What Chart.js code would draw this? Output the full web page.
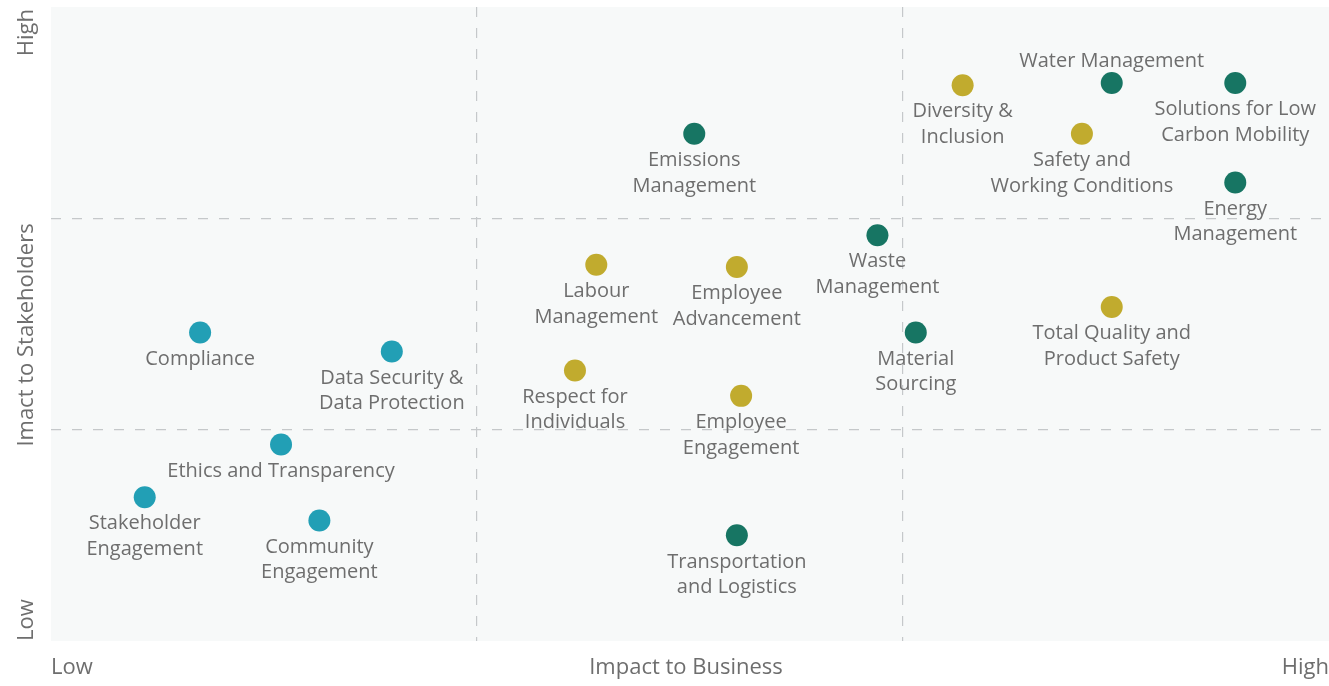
<!DOCTYPE html>
<html>
<head>
<meta charset="utf-8">
<script src="https://cdn.jsdelivr.net/npm/chart.js@4/dist/chart.umd.min.js"></script>
<style>
    html, body { margin: 0; padding: 0; background: #ffffff; }
    #wrap { width: 1329px; height: 686px; position: relative; }
</style>
</head>
<body>
<div id="wrap"><canvas id="matrixChart"></canvas></div>
<script>
// Material topics (label lines split with \n)
const topics = [
    'Compliance', 'Data Security &\nData Protection', 'Ethics and Transparency',
    'Stakeholder\nEngagement', 'Community\nEngagement',
    'Diversity &\nInclusion', 'Safety and\nWorking Conditions', 'Labour\nManagement',
    'Employee\nAdvancement', 'Respect for\nIndividuals', 'Employee\nEngagement',
    'Total Quality and\nProduct Safety',
    'Water Management', 'Solutions for Low\nCarbon Mobility', 'Energy\nManagement',
    'Emissions\nManagement', 'Waste\nManagement', 'Material\nSourcing',
    'Transportation\nand Logistics'
];
// Impact to Business (0 = low, 3 = high)
const impactBusiness = [
    0.35, 0.80, 0.54, 0.22, 0.63,
    2.14, 2.42, 1.28, 1.61, 1.23, 1.62, 2.49,
    2.49, 2.78, 2.78, 1.51, 1.94, 2.03, 1.61
];
// Impact to Stakeholders (0 = low, 3 = high)
const impactStakeholders = [
    1.46, 1.37, 0.93, 0.68, 0.57,
    2.63, 2.40, 1.78, 1.77, 1.28, 1.16, 1.58,
    2.64, 2.64, 2.17, 2.40, 1.92, 1.46, 0.50
];
// group of each topic
const topicGroup = [
    'governance', 'governance', 'governance', 'governance', 'governance',
    'social', 'social', 'social', 'social', 'social', 'social', 'social',
    'environment', 'environment', 'environment', 'environment', 'environment', 'environment', 'environment'
];
const groups = ['governance', 'social', 'environment'];
const xAxisLabels = ['Low', 'Impact to Business', 'High'];
const yAxisLabels = ['Low', 'Imact to Stakeholders', 'High'];

const groupColors = { governance: '#229fb5', social: '#c1ab2e', environment: '#177563' };
const labelsAbove = ['Water Management'];
const FONT = '20px "Open Sans", sans-serif';
const AXIS_FONT = '22px "Open Sans", sans-serif';
const TEXT_COLOR = '#6e6e6e';

const datasets = groups.map(g => {
    const idx = topics.map((t, i) => i).filter(i => topicGroup[i] === g);
    return {
        label: g,
        data: idx.map(i => ({ x: impactBusiness[i], y: impactStakeholders[i], name: topics[i] })),
        backgroundColor: groupColors[g],
        borderWidth: 0,
        pointRadius: 11,
        pointHoverRadius: 11
    };
});

// plot background
const backgroundPlugin = {
    id: 'plotBackground',
    beforeDraw(chart) {
        const { ctx, chartArea } = chart;
        ctx.save();
        ctx.fillStyle = '#f7f9f9';
        ctx.fillRect(chartArea.left, chartArea.top, chartArea.right - chartArea.left, chartArea.bottom - chartArea.top);
        ctx.restore();
    }
};

// point labels + axis text
const textPlugin = {
    id: 'matrixText',
    afterDatasetsDraw(chart) {
        const ctx = chart.ctx;
        ctx.save();
        ctx.font = FONT;
        ctx.fillStyle = TEXT_COLOR;
        ctx.textAlign = 'center';
        ctx.textBaseline = 'middle';
        chart.data.datasets.forEach((ds, di) => {
            const meta = chart.getDatasetMeta(di);
            meta.data.forEach((pt, i) => {
                const name = ds.data[i].name;
                const lines = name.split('\n');
                if (labelsAbove.includes(name)) {
                    lines.forEach((l, k) => ctx.fillText(l, pt.x, pt.y - 22 - (lines.length - 1 - k) * 25.5));
                } else {
                    lines.forEach((l, k) => ctx.fillText(l, pt.x, pt.y + 26.5 + k * 25.5));
                }
            });
        });

        const { chartArea } = chart;
        const xs = chart.scales.x;
        const ys = chart.scales.y;
        ctx.font = AXIS_FONT;
        // x axis text
        ctx.textAlign = 'left';
        ctx.fillText(xAxisLabels[0], xs.getPixelForValue(0), chartArea.bottom + 27);
        ctx.textAlign = 'center';
        ctx.fillText(xAxisLabels[1], xs.getPixelForValue(1.5) - 4, chartArea.bottom + 27);
        ctx.textAlign = 'right';
        ctx.fillText(xAxisLabels[2], xs.getPixelForValue(3), chartArea.bottom + 27);
        // y axis text (rotated)
        ctx.translate(27, 0);
        ctx.rotate(-Math.PI / 2);
        ctx.textAlign = 'left';
        ctx.fillText(yAxisLabels[0], -ys.getPixelForValue(0), 0);
        ctx.textAlign = 'center';
        ctx.fillText(yAxisLabels[1], -ys.getPixelForValue(1.5) - 11, 0);
        ctx.textAlign = 'right';
        ctx.fillText(yAxisLabels[2], -ys.getPixelForValue(3) - 2, 0);
        ctx.restore();
    }
};

const gridOpts = {
    drawTicks: false,
    lineWidth: 1.2,
    color: c => (c.tick && (c.tick.value === 1 || c.tick.value === 2)) ? '#c5c8ca' : 'rgba(0,0,0,0)'
};

new Chart(document.getElementById('matrixChart'), {
    type: 'scatter',
    data: { datasets },
    options: {
        responsive: true,
        maintainAspectRatio: false,
        animation: false,
        layout: { autoPadding: false, padding: { left: 51, top: 7, right: 0, bottom: 45 } },
        plugins: { legend: { display: false }, tooltip: { enabled: false } },
        scales: {
            x: {
                min: 0, max: 3,
                ticks: { display: false, stepSize: 1 },
                grid: gridOpts,
                border: { display: false, dash: [10, 11] }
            },
            y: {
                min: 0, max: 3,
                ticks: { display: false, stepSize: 1 },
                grid: gridOpts,
                border: { display: false, dash: [10, 11] }
            }
        }
    },
    plugins: [backgroundPlugin, textPlugin]
});
</script>
</body>
</html>
